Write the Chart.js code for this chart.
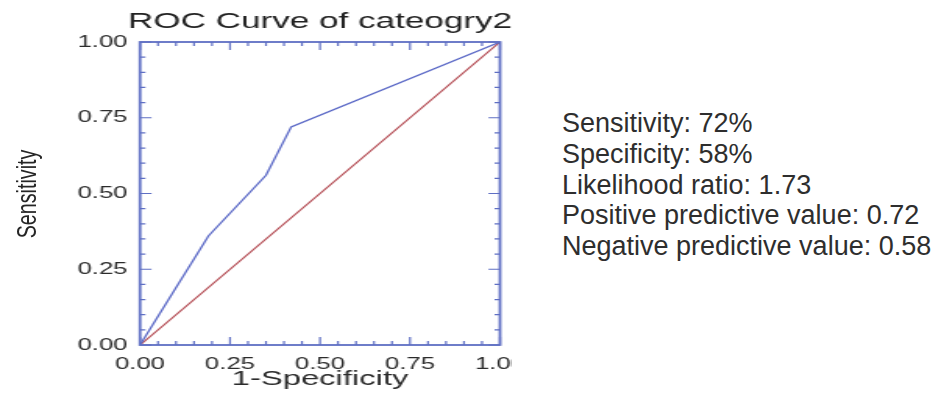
<!DOCTYPE html>
<html>
<head>
<meta charset="utf-8">
<title>ROC Curve of cateogry2</title>
<script src="https://cdn.jsdelivr.net/npm/chart.js@4/dist/chart.umd.min.js"></script>
<style>
  html, body { margin: 0; padding: 0; background: #ffffff; }
  #page { position: relative; width: 932px; height: 393px; overflow: hidden; background: #ffffff; }
  #plotWrap { position: absolute; left: 0; top: 0; width: 512px; height: 393px; overflow: hidden; }
  #roc { display: block; transform: scaleX(1.56); transform-origin: 0 0; }
  #yTitle {
    position: absolute; left: -73px; top: 179px; width: 200px; height: 30px;
    line-height: 30px; text-align: center; white-space: nowrap;
    font-family: "Liberation Sans", Arial, sans-serif; font-size: 27px; color: #262626;
    transform: rotate(-90deg) scaleX(0.73); transform-origin: 50% 50%;
  }
  #stats {
    position: absolute; left: 562px; top: 108px;
    font-family: "Liberation Sans", Arial, sans-serif; font-size: 27px; line-height: 30.8px;
    color: #2e2e2e; white-space: nowrap;
  }
</style>
</head>
<body>
<div id="page">
  <div id="plotWrap"><canvas id="roc" width="350" height="393" style="width:350px;height:393px"></canvas></div>
  <div id="yTitle">Sensitivity</div>
  <div id="stats"></div>
</div>
<script>
// ROC curve: false positive rate (1-specificity) vs true positive rate (sensitivity)
const fpr = [0, 0.19, 0.35, 0.42, 1];
const tpr = [0, 0.36, 0.56, 0.72, 1];

// chance diagonal
const diagX = [0, 1];
const diagY = [0, 1];

// axis labels and tick marks
const axisTicks = [0, 0.25, 0.5, 0.75, 1];
const frameTickValues = [0, 0.05, 0.1, 0.15, 0.2, 0.25, 0.3, 0.35, 0.4, 0.45, 0.5,
                         0.55, 0.6, 0.65, 0.7, 0.75, 0.8, 0.85, 0.9, 0.95, 1];

const chartTitle = 'ROC Curve of cateogry2';

// summary statistics shown next to the plot
const statLines = [
  'Sensitivity: 72%',
  'Specificity: 58%',
  'Likelihood ratio: 1.73',
  'Positive predictive value: 0.72',
  'Negative predictive value: 0.58'
];

document.getElementById('stats').innerHTML = statLines.map(s => '<div>' + s + '</div>').join('');

const FONT = '"Liberation Sans", Arial, sans-serif';
const TEXT = '#2b2b2b';
const FRAME = '#5f6fc4';
const BLUE = '#5a68c6';
const RED = '#b34a52';

// Box frame with inward tick marks on all four sides
const frameTicks = {
  id: 'frameTicks',
  afterDatasetsDraw(chart) {
    const { ctx, chartArea: a, scales: { x, y } } = chart;
    ctx.save();
    ctx.strokeStyle = FRAME;
    ctx.lineCap = 'butt';
    ctx.lineWidth = 1.2;
    ctx.beginPath();
    frameTickValues.forEach(v => {
      const major = axisTicks.some(t => Math.abs(t - v) < 1e-9);
      const px = x.getPixelForValue(v);
      const py = y.getPixelForValue(v);
      const lv = major ? 8 : 4;     // length of ticks on horizontal edges
      const lh = major ? 7.4 : 3.5; // length of ticks on vertical edges
      ctx.moveTo(px, a.bottom); ctx.lineTo(px, a.bottom - lv);
      ctx.moveTo(px, a.top); ctx.lineTo(px, a.top + lv);
      ctx.moveTo(a.left, py); ctx.lineTo(a.left + lh, py);
      ctx.moveTo(a.right, py); ctx.lineTo(a.right - lh, py);
    });
    ctx.stroke();
    ctx.lineWidth = 1.8;
    ctx.strokeRect(a.left, a.top, a.right - a.left, a.bottom - a.top);
    ctx.restore();
  }
};

// Chart heading centred over the plot area, allowed to run wider than the frame
const plotHeading = {
  id: 'plotHeading',
  afterDraw(chart) {
    const { ctx, chartArea: a } = chart;
    ctx.save();
    ctx.fillStyle = '#222222';
    ctx.font = '22.5px ' + FONT;
    ctx.textAlign = 'center';
    ctx.textBaseline = 'middle';
    ctx.fillText(chartTitle, (a.left + a.right) / 2, a.top - 20);
    ctx.restore();
  }
};

const fmt = v => Number(v).toFixed(2);

new Chart(document.getElementById('roc'), {
  type: 'scatter',
  data: {
    datasets: [
      {
        label: 'Chance',
        data: diagX.map((v, i) => ({ x: v, y: diagY[i] })),
        showLine: true, borderColor: RED, borderWidth: 1.2,
        pointRadius: 0, fill: false, order: 2
      },
      {
        label: 'ROC',
        data: fpr.map((v, i) => ({ x: v, y: tpr[i] })),
        showLine: true, borderColor: BLUE, borderWidth: 1.3,
        pointRadius: 0, fill: false, tension: 0, order: 1
      }
    ]
  },
  options: {
    responsive: false,
    animation: false,
    devicePixelRatio: 1,
    layout: { padding: { left: 0, right: 29.5, top: 42, bottom: 0 } },
    plugins: {
      legend: { display: false },
      tooltip: { enabled: false },
      title: { display: false }
    },
    scales: {
      x: {
        type: 'linear', min: 0, max: 1,
        afterBuildTicks: s => { s.ticks = axisTicks.map(v => ({ value: v })); },
        ticks: {
          callback: fmt, color: TEXT, padding: 2,
          font: { family: FONT, size: 16.5 }, maxRotation: 0, autoSkip: false
        },
        grid: { display: false },
        border: { display: false },
        title: {
          display: true, text: '1-Specificity', color: TEXT,
          font: { family: FONT, size: 21 }, padding: { top: 0, bottom: 1.4 }
        },
        afterFit: s => { s.height = 48; }
      },
      y: {
        type: 'linear', min: 0, max: 1,
        afterBuildTicks: s => { s.ticks = axisTicks.map(v => ({ value: v })); },
        ticks: {
          callback: fmt, color: TEXT, padding: 0,
          font: { family: FONT, size: 16.5 }
        },
        grid: { display: false },
        border: { display: false },
        afterFit: s => { s.width = 89.74; }
      }
    }
  },
  plugins: [frameTicks, plotHeading]
});
</script>
</body>
</html>
